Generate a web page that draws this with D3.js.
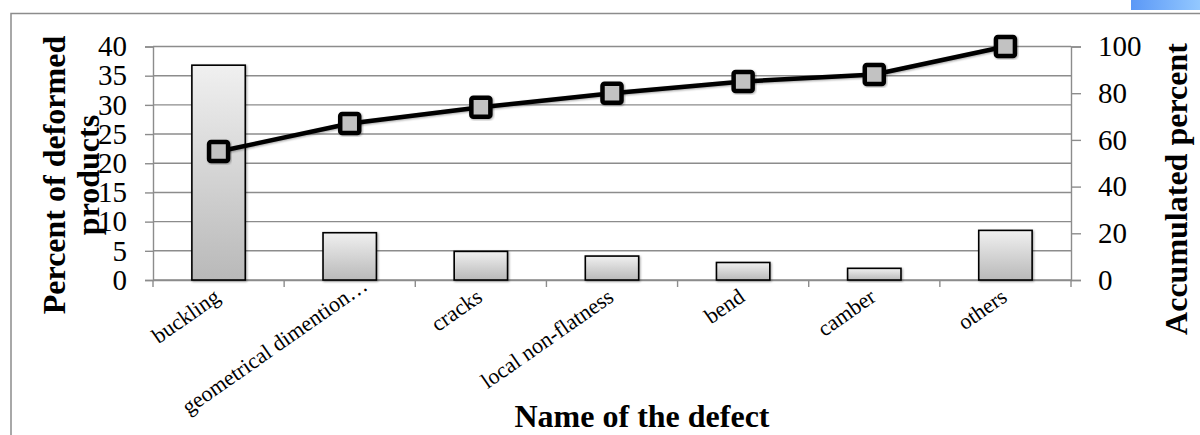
<!DOCTYPE html>
<html>
<head>
<meta charset="utf-8">
<script src="https://cdn.jsdelivr.net/npm/d3@7"></script>
<style>
  body { margin: 0; background: #fff; }
  svg { display: block; font-family: "Liberation Serif", "Times New Roman", serif; }
</style>
</head>
<body>
<div id="chart"></div>
<script>
// data
const defects = ["buckling", "geometrical dimention\u2026", "cracks", "local non-flatness", "bend", "camber", "others"];
const deformedPercent = [36.8, 8.1, 4.9, 4.1, 3.0, 2.0, 8.5];
const accumulatedPercent = [55, 67, 74, 80, 85, 88, 100];
const leftTicks = [0, 5, 10, 15, 20, 25, 30, 35, 40];
const rightTicks = [0, 20, 40, 60, 80, 100];

const width = 1200, height = 435;
const plot = {left: 153, right: 1071, top: 46.5, bottom: 280};

const svg = d3.select("#chart").append("svg")
    .attr("width", width)
    .attr("height", height);

const defs = svg.append("defs");
const grad = defs.append("linearGradient")
    .attr("id", "barfill").attr("x1", 0).attr("y1", 0).attr("x2", 0).attr("y2", 1);
grad.append("stop").attr("offset", "0%").attr("stop-color", "#f0f0f0");
grad.append("stop").attr("offset", "100%").attr("stop-color", "#b9b9b9");

const blue = defs.append("linearGradient")
    .attr("id", "bluefill").attr("x1", 0).attr("y1", 0).attr("x2", 1).attr("y2", 0);
blue.append("stop").attr("offset", "0%").attr("stop-color", "#5b98f6");
blue.append("stop").attr("offset", "100%").attr("stop-color", "#93c8ff");

defs.append("filter")
    .attr("id", "shadow")
    .attr("x", "-20%").attr("y", "-20%").attr("width", "140%").attr("height", "140%")
  .append("feDropShadow")
    .attr("dx", 1).attr("dy", 1).attr("stdDeviation", 1.2)
    .attr("flood-color", "#000").attr("flood-opacity", 0.35);

// outer frame (only top and left visible) + blue tab
svg.append("path")
    .attr("d", `M11,${height} V13.5 H${width}`)
    .attr("fill", "none").attr("stroke", "#8c8c8c").attr("stroke-width", 1.5);
svg.append("rect")
    .attr("x", 1131).attr("y", 0).attr("width", 69).attr("height", 10)
    .attr("fill", "url(#bluefill)");

// scales
const x = d3.scaleBand().domain(defects).range([plot.left, plot.right]).padding(0);
const yLeft = d3.scaleLinear().domain([0, 40]).range([plot.bottom, plot.top]);
const yRight = d3.scaleLinear().domain([0, 100]).range([plot.bottom, plot.top]);

const gridColor = "#8c8c8c";

// gridlines
svg.append("g")
  .selectAll("line")
  .data(leftTicks)
  .join("line")
    .attr("x1", plot.left).attr("x2", plot.right)
    .attr("y1", d => yLeft(d)).attr("y2", d => yLeft(d))
    .attr("stroke", gridColor).attr("stroke-width", 1.4);

// left axis
const leftAxis = svg.append("g")
    .attr("transform", `translate(${plot.left},0)`)
    .call(d3.axisLeft(yLeft).tickValues(leftTicks).tickSize(8).tickPadding(18));
// right axis
const rightAxis = svg.append("g")
    .attr("transform", `translate(${plot.right},0)`)
    .call(d3.axisRight(yRight).tickValues(rightTicks).tickSize(10).tickPadding(17));
// bottom axis
const bottomAxis = svg.append("g")
    .attr("transform", `translate(0,${plot.bottom})`)
    .call(d3.axisBottom(x).tickValues([]).tickSizeOuter(0));

[leftAxis, rightAxis].forEach(g => {
  g.select(".domain").attr("stroke", gridColor).attr("stroke-width", 1.4);
  g.selectAll(".tick line").attr("stroke", gridColor).attr("stroke-width", 1.4);
  g.selectAll(".tick text")
    .attr("font-family", "Liberation Serif")
    .attr("font-size", 29)
    .attr("fill", "#000");
});
bottomAxis.select(".domain").attr("stroke", gridColor).attr("stroke-width", 1.4);

// category boundary ticks
svg.append("g")
  .selectAll("line")
  .data(defects.concat([null]))
  .join("line")
    .attr("x1", (d, i) => plot.left + i * x.step())
    .attr("x2", (d, i) => plot.left + i * x.step())
    .attr("y1", plot.bottom).attr("y2", plot.bottom + 7)
    .attr("stroke", gridColor).attr("stroke-width", 1.4);

// bars
const barW = x.bandwidth() * 0.407;
svg.append("g")
  .selectAll("rect")
  .data(defects)
  .join("rect")
    .attr("x", d => x(d) + (x.bandwidth() - barW) / 2)
    .attr("y", (d, i) => yLeft(deformedPercent[i]))
    .attr("width", barW)
    .attr("height", (d, i) => yLeft(0) - yLeft(deformedPercent[i]))
    .attr("fill", "url(#barfill)")
    .attr("stroke", "#000").attr("stroke-width", 1.6)
    .attr("filter", "url(#shadow)");

// accumulated line
const cx = d => x(d) + x.bandwidth() / 2;
const line = d3.line()
    .x((d, i) => cx(defects[i]))
    .y(d => yRight(d));
svg.append("path")
    .datum(accumulatedPercent)
    .attr("d", line)
    .attr("fill", "none")
    .attr("stroke", "#000")
    .attr("stroke-width", 4.5)
    .attr("stroke-linejoin", "round")
    .attr("filter", "url(#shadow)");

svg.append("g")
  .selectAll("rect")
  .data(accumulatedPercent)
  .join("rect")
    .attr("x", (d, i) => cx(defects[i]) - 9.5)
    .attr("y", d => yRight(d) - 9.5)
    .attr("width", 19).attr("height", 19)
    .attr("rx", 2)
    .attr("fill", "#c2c2c2")
    .attr("stroke", "#000").attr("stroke-width", 4.5)
    .attr("filter", "url(#shadow)");

// category labels (truncated label sits a bit further out, like Excel does)
svg.append("g")
  .selectAll("text")
  .data(defects)
  .join("text")
    .attr("transform", d => `translate(${cx(d) + 3},300) rotate(-35)`)
    .attr("text-anchor", "end")
    .attr("dx", d => d.endsWith("\u2026") ? 20 : 0)
    .attr("font-size", 22)
    .attr("fill", "#000")
    .text(d => d);

// axis titles
const leftTitle = svg.append("text")
    .attr("transform", "translate(0,175) rotate(-90)")
    .attr("text-anchor", "middle")
    .attr("font-size", 32)
    .attr("font-weight", "bold");
leftTitle.append("tspan").attr("x", 0).attr("y", 65).text("Percent of deformed");
leftTitle.append("tspan").attr("x", 0).attr("y", 99).text("products");

svg.append("text")
    .attr("transform", "translate(1187,189) rotate(-90)")
    .attr("text-anchor", "middle")
    .attr("font-size", 32)
    .attr("font-weight", "bold")
    .text("Accumulated percent");

svg.append("text")
    .attr("x", 642).attr("y", 427)
    .attr("text-anchor", "middle")
    .attr("font-size", 32)
    .attr("font-weight", "bold")
    .text("Name of the defect");
</script>
</body>
</html>
